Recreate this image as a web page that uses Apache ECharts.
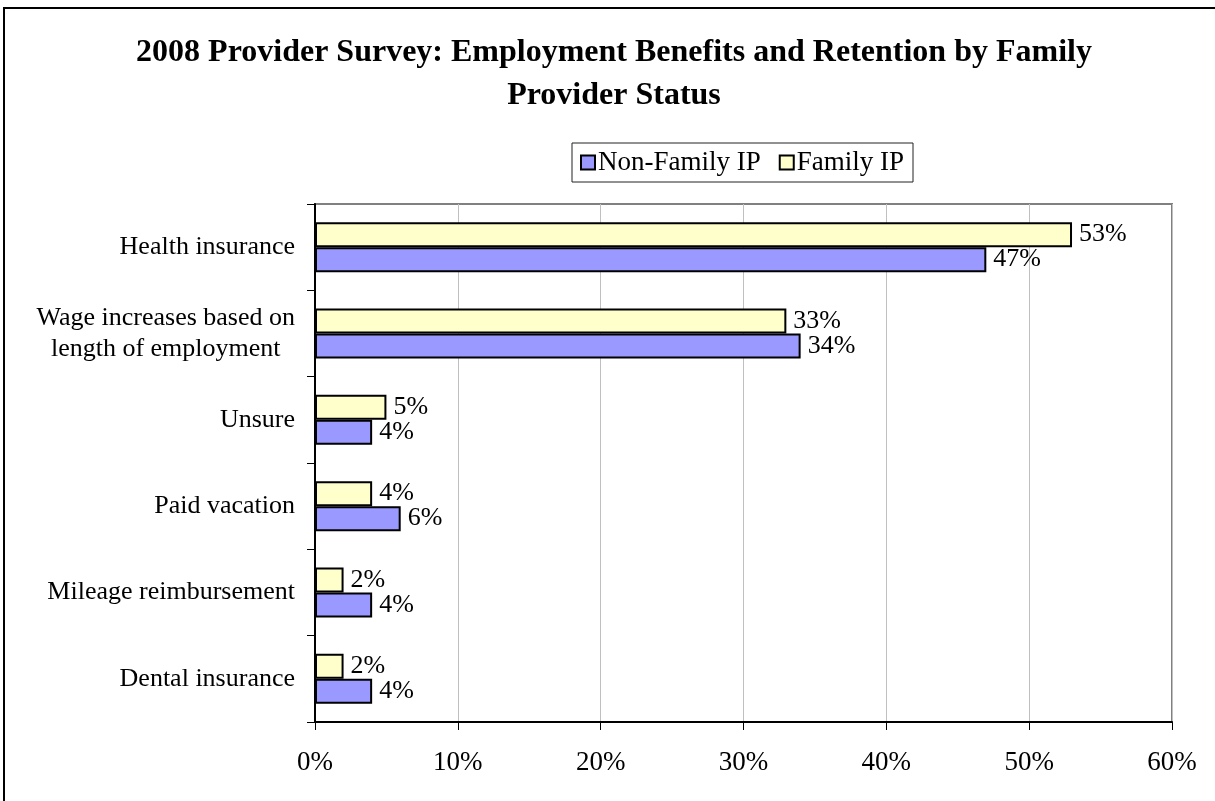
<!DOCTYPE html>
<html>
<head>
<meta charset="utf-8">
<script src="https://cdn.jsdelivr.net/npm/echarts@6/dist/echarts.min.js"></script>
<style>
html,body{margin:0;padding:0;background:#fff;}
#chart{width:1215px;height:801px;}
</style>
</head>
<body>
<div id="chart"></div>
<script>
const categories = ['Health insurance', 'Wage increases based on\nlength of employment', 'Unsure', 'Paid vacation', 'Mileage reimbursement', 'Dental insurance'];
const nonFamily = [47, 34, 4, 6, 4, 4];
const family = [53, 33, 5, 4, 2, 2];
const xTicks = [0, 10, 20, 30, 40, 50, 60];
const titleText = '2008 Provider Survey: Employment Benefits and Retention by Family\nProvider Status';

const FONT = "'Liberation Serif', 'Times New Roman', serif";
const FS = 26;
const chart = echarts.init(document.getElementById('chart'), null, {renderer: 'canvas'});
chart.setOption({
  backgroundColor: '#fff',
  animation: false,
  textStyle: {fontFamily: FONT},
  title: {
    text: titleText,
    left: 609, textAlign: 'center', top: 26,
    textStyle: {fontFamily: FONT, fontWeight: 'bold', fontSize: 32, color: '#000', lineHeight: 43}
  },
  graphic: [{
    type: 'rect', shape: {x: 4, y: 8, width: 1400, height: 1000},
    style: {fill: 'none', stroke: '#000', lineWidth: 2}, silent: true, z: 100
  }],
  legend: {
    data: ['Non-Family IP', 'Family IP'],
    left: 572, top: 143,
    padding: [6, 9, 6, 8],
    itemWidth: 14, itemHeight: 14, itemGap: 18,
    borderColor: '#222', borderWidth: 1,
    icon: 'rect',
    textStyle: {fontFamily: FONT, fontSize: 27, color: '#000', padding: [0, 0, 0, -2]}
  },
  grid: {
    left: 315, top: 204, width: 857, height: 518,
    show: true, borderColor: '#808080', borderWidth: 2, backgroundColor: 'transparent'
  },
  xAxis: {
    type: 'value', min: 0, max: 60, interval: 10,
    axisLine: {show: true, lineStyle: {color: '#000', width: 2}},
    axisTick: {show: true, length: 8, lineStyle: {color: '#000', width: 1}},
    splitLine: {show: true, lineStyle: {color: '#C0C0C0', width: 1}},
    axisLabel: {formatter: '{value}%', fontFamily: FONT, fontSize: 27, color: '#000', margin: 27}
  },
  yAxis: {
    type: 'category', data: categories, inverse: true,
    axisLine: {show: true, lineStyle: {color: '#000', width: 2}},
    axisTick: {show: true, length: 8, lineStyle: {color: '#000', width: 1}},
    axisLabel: {
      fontFamily: FONT, fontSize: FS, color: '#000', margin: 20, lineHeight: 31,
      formatter: function (v) {
        return v.split('\n').map(s => '{c|' + s + '}').join('\n');
      },
      rich: {c: {fontFamily: FONT, fontSize: FS, color: '#000', align: 'center', lineHeight: 31}}
    }
  },
  series: [
    {
      name: 'Family IP', type: 'bar', data: family,
      barWidth: 25, barGap: '0%',
      itemStyle: {color: '#FFFFCC', borderColor: '#000', borderWidth: 2},
      label: {show: true, position: 'right', distance: 7, formatter: '{c}%', fontFamily: FONT, fontSize: FS, color: '#000'}
    },
    {
      name: 'Non-Family IP', type: 'bar', data: nonFamily,
      barWidth: 25, barGap: '0%',
      itemStyle: {color: '#9999FF', borderColor: '#000', borderWidth: 2},
      label: {show: true, position: 'right', distance: 7, formatter: '{c}%', fontFamily: FONT, fontSize: FS, color: '#000'}
    }
  ]
});
</script>
</body>
</html>
